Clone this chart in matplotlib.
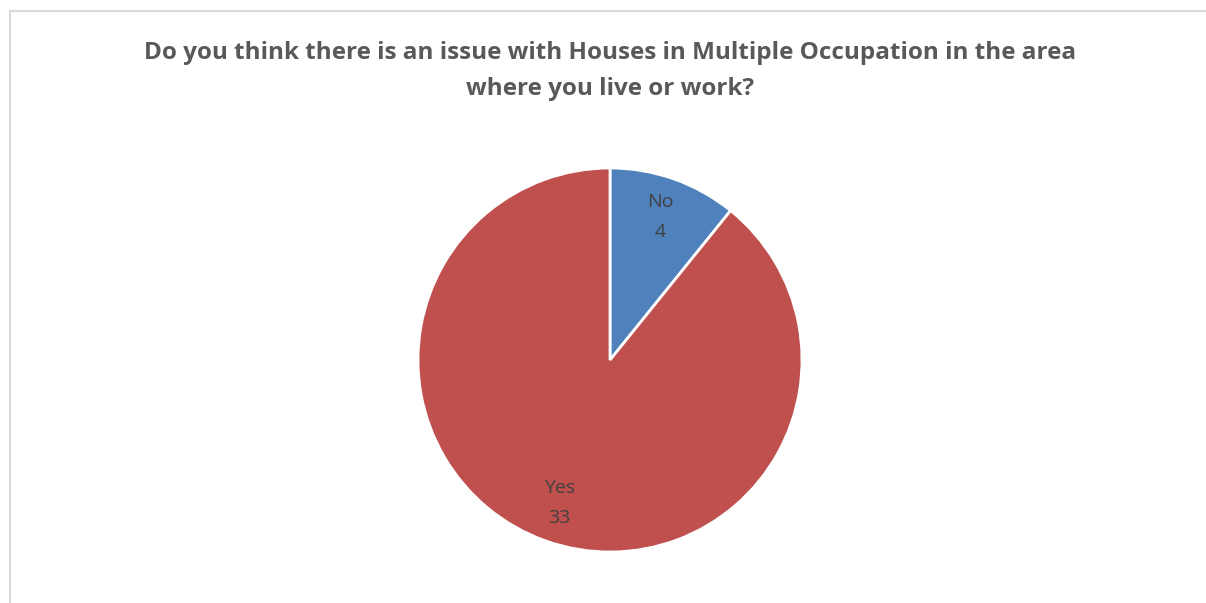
import matplotlib
matplotlib.use("Agg")
import matplotlib.pyplot as plt
from matplotlib.lines import Line2D

categories = ["No", "Yes"]
values = [4, 33]
colors = ["#4F81BD", "#C0504D"]
title = "Do you think there is an issue with Houses in Multiple Occupation in the area\nwhere you live or work?"

W, H = 1206, 603
fig = plt.figure(figsize=(W / 100, H / 100), dpi=100)
fig.patch.set_facecolor("white")

# chart border (left and top visible, right/bottom cut off)
fig.add_artist(Line2D([9.5 / W, 9.5 / W], [0, 1 - 10.5 / H], transform=fig.transFigure,
                      color="#D9D9D9", lw=1.5))
fig.add_artist(Line2D([9.5 / W, 1], [1 - 10.5 / H, 1 - 10.5 / H], transform=fig.transFigure,
                      color="#D9D9D9", lw=1.5))

cx, cy, r = 610, 360, 192
ax = fig.add_axes([(cx - r) / W, 1 - (cy + r) / H, 2 * r / W, 2 * r / H])
labels = [f"{c}\n{v}" for c, v in zip(categories, values)]
wedges, texts = ax.pie(values, colors=colors, startangle=90, counterclock=False,
                       labels=labels, labeldistance=0.79,
                       wedgeprops=dict(edgecolor="white", linewidth=2),
                       textprops=dict(fontsize=14, color="#404040", family="Open Sans"))
for t in texts:
    t.set_horizontalalignment("center")
    t.set_verticalalignment("center")
    t.set_linespacing(1.85)
ax.set_xlim(-1, 1)
ax.set_ylim(-1, 1)
ax.set_aspect("equal")
ax.axis("off")

fig.text(610 / W, 1 - 71 / H, title, ha="center", va="center", fontsize=17.5,
         fontweight="bold", color="#595959", family="Open Sans", linespacing=1.7)

fig.savefig("out.png", dpi=100)
